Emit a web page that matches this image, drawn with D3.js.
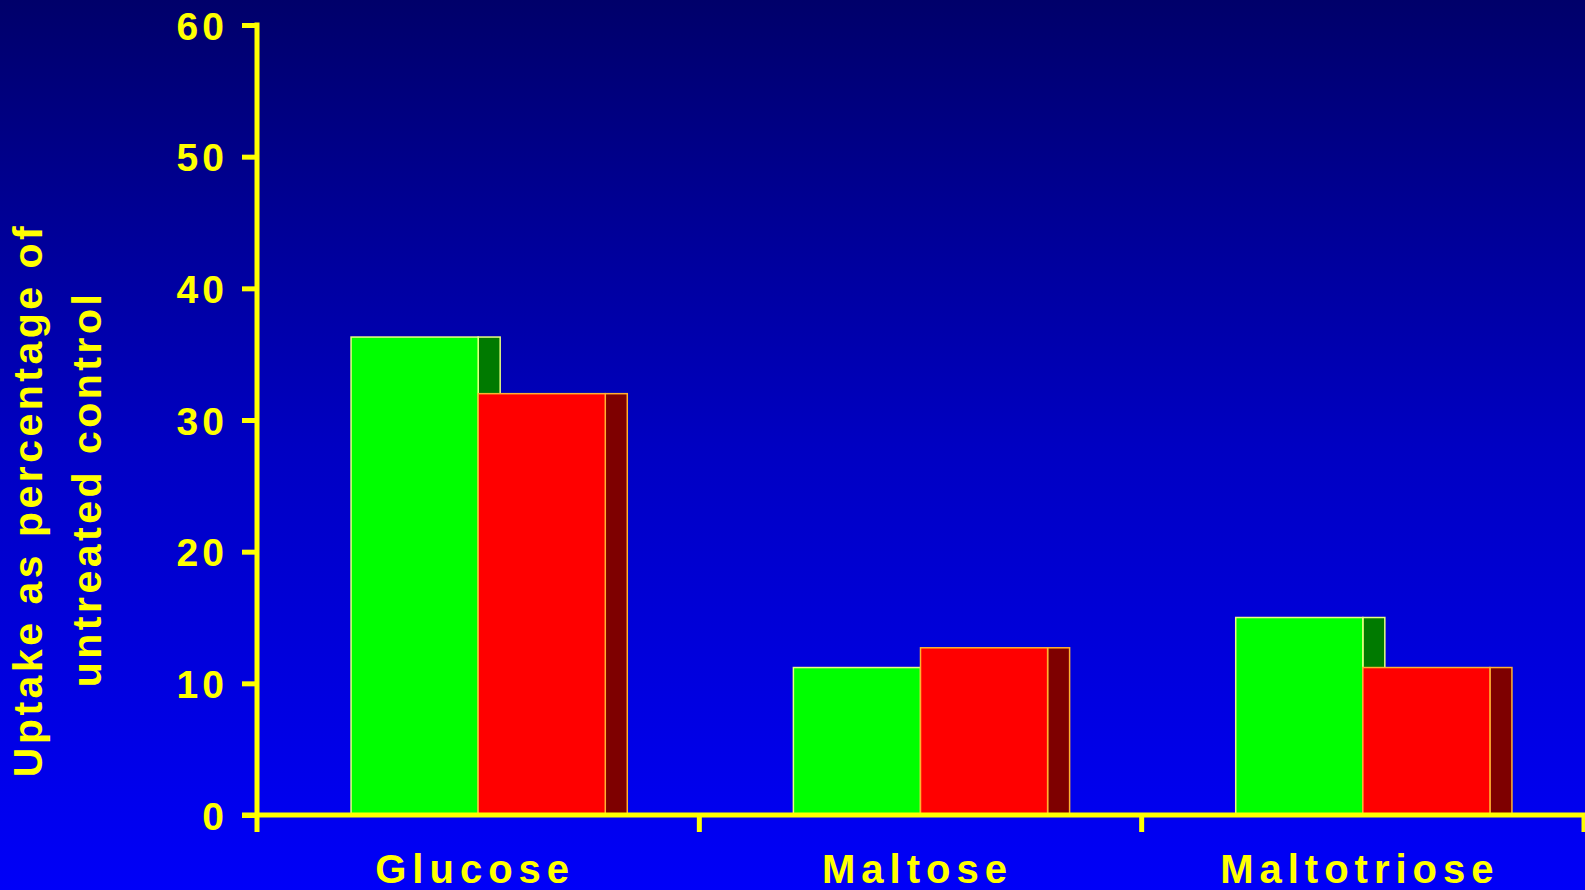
<!DOCTYPE html>
<html>
<head>
<meta charset="utf-8">
<script src="https://cdn.jsdelivr.net/npm/d3@7"></script>
<style>
  html, body { margin: 0; padding: 0; background: #0000c0; overflow: hidden; }
  svg { display: block; }
  text { font-family: "Liberation Sans", Arial, sans-serif; font-weight: bold; fill: #ffff00; }
</style>
</head>
<body>
<svg id="chart" width="1585" height="890"></svg>
<script>
// Sugar uptake data (percentage of untreated control)
const categories = ["Glucose", "Maltose", "Maltotriose"];
const seriesNames = ["green", "red"];
const greenValues = [36.3, 11.2, 15.0];
const redValues = [32.0, 12.7, 11.2];
const yTicks = [0, 10, 20, 30, 40, 50, 60];
const yLabelLines = ["Uptake as percentage of", "untreated control"];

const W = 1585, H = 890;
const svg = d3.select("#chart");

// background gradient: navy at the top to bright blue at the bottom
const defs = svg.append("defs");
const grad = defs.append("linearGradient")
  .attr("id", "bg").attr("x1", 0).attr("y1", 0).attr("x2", 0).attr("y2", 1);
grad.append("stop").attr("offset", "0%").attr("stop-color", "#00006a");
grad.append("stop").attr("offset", "50%").attr("stop-color", "#0000c2");
grad.append("stop").attr("offset", "100%").attr("stop-color", "#0000f8");
svg.append("rect").attr("width", W).attr("height", H).attr("fill", "url(#bg)");

const yellow = "#ffff00";
const axisWidth = 5;
const depth = 22;

const x = d3.scaleBand().domain(categories).range([257, 1584]).padding(0);
const xs = d3.scaleBand().domain(seriesNames).range([0, x.bandwidth()]).paddingOuter(0.74).paddingInner(0);
const y = d3.scaleLinear().domain([0, 60]).range([815, 25]);

const colors = {
  green: { front: "#00ff00", side: "#007a00", edge: "#e8ff80" },
  red:   { front: "#ff0000", side: "#7e0000", edge: "#ffb030" }
};

const rows = categories.map((c, i) => ({ cat: c, green: greenValues[i], red: redValues[i] }));

const plot = svg.append("g");
rows.forEach(r => {
  seriesNames.forEach(s => {
    const x0 = x(r.cat) + xs(s);
    const w = xs.bandwidth();
    const top = y(r[s]);
    const base = y(0);
    const col = colors[s];
    // side strip giving the bar depth
    plot.append("rect")
      .attr("x", x0 + w).attr("y", top)
      .attr("width", depth).attr("height", base - top)
      .attr("fill", col.side).attr("stroke", col.edge).attr("stroke-width", 1.5);
    // front face
    plot.append("rect")
      .attr("x", x0).attr("y", top)
      .attr("width", w).attr("height", base - top)
      .attr("fill", col.front).attr("stroke", col.edge).attr("stroke-width", 1.5);
  });
});

// y axis
const yAxis = d3.axisLeft(y).tickValues(yTicks).tickSize(15).tickSizeOuter(0).tickPadding(14);
const gy = svg.append("g").attr("transform", "translate(257,0)").call(yAxis);
gy.select(".domain").remove();
gy.selectAll(".tick line").attr("stroke", yellow).attr("stroke-width", axisWidth);
gy.selectAll(".tick text")
  .attr("fill", yellow)
  .style("font-size", "39px")
  .style("font-weight", "bold")
  .style("font-family", "'Liberation Sans', Arial, sans-serif")
  .style("letter-spacing", "4px")
  .attr("dy", "0.36em");
svg.append("line")
  .attr("x1", 257).attr("x2", 257)
  .attr("y1", y(60) - axisWidth / 2).attr("y2", 832)
  .attr("stroke", yellow).attr("stroke-width", axisWidth);

// x axis with ticks on the category boundaries
svg.append("line")
  .attr("x1", 242).attr("x2", W)
  .attr("y1", y(0)).attr("y2", y(0))
  .attr("stroke", yellow).attr("stroke-width", axisWidth);
const edges = categories.slice(1).map(c => x(c)).concat([x.range()[1]]);
svg.selectAll(".xedge").data(edges).enter().append("line")
  .attr("class", "xedge")
  .attr("x1", d => d).attr("x2", d => d)
  .attr("y1", y(0)).attr("y2", 832)
  .attr("stroke", yellow).attr("stroke-width", axisWidth);

svg.selectAll(".xlabel").data(categories).enter().append("text")
  .attr("class", "xlabel")
  .attr("x", d => x(d) + x.bandwidth() / 2 - 3)
  .attr("y", 883)
  .attr("text-anchor", "middle")
  .style("font-size", "40px")
  .style("letter-spacing", "6px")
  .text(d => d);

// rotated y axis title on two lines
const titleX = [42, 101];
const titleY = [500, 489];
yLabelLines.forEach((line, i) => {
  svg.append("text")
    .attr("transform", `translate(${titleX[i]},${titleY[i]}) rotate(-90)`)
    .attr("text-anchor", "middle")
    .style("font-size", "41px")
    .style("letter-spacing", "3.5px")
    .text(line);
});
</script>
</body>
</html>
